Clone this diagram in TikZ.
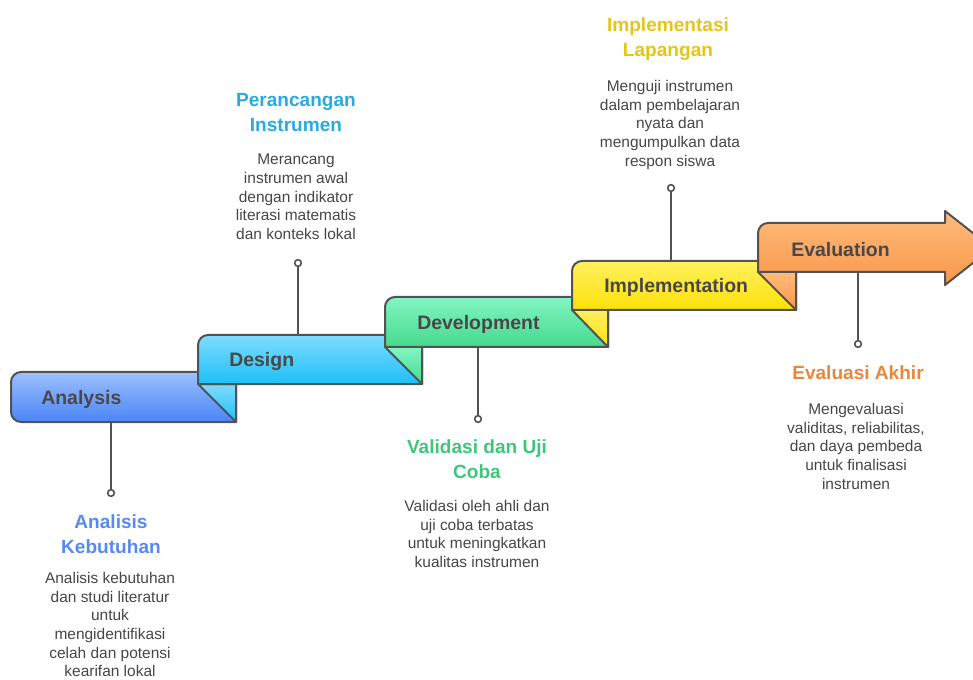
\documentclass[tikz,border=0pt]{standalone}
\usepackage{fontspec}
\setmainfont{Liberation Sans}
\usepackage{tikz}

\definecolor{linegray}{RGB}{82,82,82}
\definecolor{labelgray}{RGB}{72,72,72}
\definecolor{textgray}{RGB}{70,70,70}
\definecolor{anatop}{RGB}{157,192,255}
\definecolor{anabot}{RGB}{75,132,245}
\definecolor{destop}{RGB}{127,220,255}
\definecolor{desbot}{RGB}{29,191,247}
\definecolor{devtop}{RGB}{130,245,194}
\definecolor{devbot}{RGB}{70,217,142}
\definecolor{imptop}{RGB}{255,240,96}
\definecolor{impbot}{RGB}{253,225,8}
\definecolor{evatop}{RGB}{255,187,124}
\definecolor{evabot}{RGB}{248,151,74}
\definecolor{anatitle}{RGB}{86,138,236}
\definecolor{destitle}{RGB}{40,171,224}
\definecolor{devtitle}{RGB}{62,198,124}
\definecolor{imptitle}{RGB}{228,198,24}
\definecolor{evatitle}{RGB}{232,135,58}

\tikzset{
  band/.style={draw=linegray, line width=1.5pt, line join=round},
  lead/.style={draw=linegray, line width=1.5pt},
  dot/.style={circle, draw=linegray, fill=white, line width=1.2pt, inner sep=0pt, minimum size=5pt},
  steplabel/.style={anchor=west, inner sep=0.75pt, text=labelgray, font=\bfseries\fontsize{14.6}{17}\selectfont},
  phasetitle/.style={anchor=north, inner sep=0pt, align=center, font=\bfseries\fontsize{14.3}{18.75}\selectfont},
  phasetext/.style={anchor=north, inner sep=0pt, align=center, text=textgray, font=\fontsize{11.6}{14}\selectfont}
}

\begin{document}
\begin{tikzpicture}[x=0.75pt,y=0.75pt,yscale=-1,xscale=1]
\useasboundingbox (0,0) rectangle (973,680);

%Leader lines and dots
\coordinate (anaFoot) at (111,422);
\node [dot] (anaDot) at (111,493) {};
\draw [lead] (anaFoot) -- (anaDot);
\coordinate (desFoot) at (298,335);
\node [dot] (desDot) at (298,263) {};
\draw [lead] (desFoot) -- (desDot);
\coordinate (devFoot) at (478,347);
\node [dot] (devDot) at (478,419) {};
\draw [lead] (devFoot) -- (devDot);
\coordinate (impFoot) at (671,261);
\node [dot] (impDot) at (671,188) {};
\draw [lead] (impFoot) -- (impDot);
\coordinate (evaFoot) at (858,272);
\node [dot] (evaDot) at (858,344) {};
\draw [lead] (evaFoot) -- (evaDot);

%Shape: Band Analysis
\shade [band, top color=anatop, bottom color=anabot] (236,372) -- (21,372) .. controls (15.5,372) and (11,376.5) .. (11,382) -- (11,412) .. controls (11,417.5) and (15.5,422) .. (21,422) -- (236,422) -- cycle ;
%Shape: Fold Design
\shade [band, top color=destop, bottom color=desbot] (198,384) -- (236,384) -- (236,422) -- cycle ;
%Shape: Band Design
\shade [band, top color=destop, bottom color=desbot] (422,335) -- (208,335) .. controls (202.5,335) and (198,339.5) .. (198,345) -- (198,384) -- (422,384) -- cycle ;
%Shape: Fold Development
\shade [band, top color=devtop, bottom color=devbot] (385,347) -- (422,347) -- (422,384) -- cycle ;
%Shape: Band Development
\shade [band, top color=devtop, bottom color=devbot] (608,297) -- (395,297) .. controls (389.5,297) and (385,301.5) .. (385,307) -- (385,347) -- (608,347) -- cycle ;
%Shape: Fold Implementation
\shade [band, top color=imptop, bottom color=impbot] (572,310) -- (608,310) -- (608,347) -- cycle ;
%Shape: Band Implementation
\shade [band, top color=imptop, bottom color=impbot] (796,261) -- (582,261) .. controls (576.5,261) and (572,265.5) .. (572,271) -- (572,310) -- (796,310) -- cycle ;
%Shape: Fold Evaluation
\shade [band, top color=evatop, bottom color=evabot] (758,272) -- (796,272) -- (796,310) -- cycle ;
%Shape: Arrow Evaluation
\shade [band, top color=evatop, bottom color=evabot] (945,223) -- (768,223) .. controls (762.5,223) and (758,227.5) .. (758,233) -- (758,272) -- (945,272) -- (945,285) -- (992,248) -- (945,211) -- cycle ;

% Text Node
\node [steplabel] (anaLabel) at (40,399) {Analysis};
% Text Node
\node [steplabel] (desLabel) at (228,362) {Design};
% Text Node
\node [steplabel] (devLabel) at (416,324) {Development};
% Text Node
\node [steplabel] (impLabel) at (603,287) {Implementation};
% Text Node
\node [steplabel] (evaLabel) at (790,250) {Evaluation};

% Text Node
\node [phasetitle, text=anatitle] (anaTitle) at (111,514) {Analisis\\Kebutuhan};
% Text Node
\node [phasetext] (anaText) at (110,572) {Analisis kebutuhan\\dan studi literatur\\untuk\\mengidentifikasi\\celah dan potensi\\kearifan lokal};
% Text Node
\node [phasetitle, text=destitle] (desTitle) at (296,93) {Perancangan\\Instrumen};
% Text Node
\node [phasetext] (desText) at (296,154) {Merancang\\instrumen awal\\dengan indikator\\literasi matematis\\dan konteks lokal};
% Text Node
\node [phasetitle, text=devtitle] (devTitle) at (477,439) {Validasi dan Uji\\Coba};
% Text Node
\node [phasetext] (devText) at (477,500) {Validasi oleh ahli dan\\uji coba terbatas\\untuk meningkatkan\\kualitas instrumen};
% Text Node
\node [phasetitle, text=imptitle] (impTitle) at (668,17) {Implementasi\\Lapangan};
% Text Node
\node [phasetext] (impText) at (670,80) {Menguji instrumen\\dalam pembelajaran\\nyata dan\\mengumpulkan data\\respon siswa};
% Text Node
\node [phasetitle, text=evatitle] (evaTitle) at (858,365) {Evaluasi Akhir};
% Text Node
\node [phasetext] (evaText) at (856,403) {Mengevaluasi\\validitas, reliabilitas,\\dan daya pembeda\\untuk finalisasi\\instrumen};

\end{tikzpicture}
\end{document}
